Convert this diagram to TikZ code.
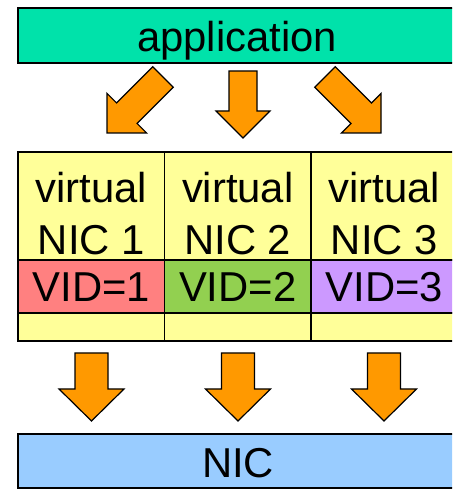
\documentclass[tikz,border=0pt]{standalone}
\usepackage{fontspec}
\setmainfont{Liberation Sans}
\usetikzlibrary{calc}

\definecolor{appgreen}{RGB}{0,226,170}
\definecolor{vnicyellow}{RGB}{255,255,153}
\definecolor{vidred}{RGB}{255,128,128}
\definecolor{vidgreen}{RGB}{146,208,80}
\definecolor{vidpurple}{RGB}{204,153,255}
\definecolor{nicblue}{RGB}{153,204,255}
\definecolor{flow}{RGB}{255,153,0}

% block arrow from #1 (tail) to #2 (tip):
% #3 shaft half width, #4 head half width, #5 head length
\newcommand\blockarrow[5]{%
  \draw[flowarrow] ($(#1)!#3!90:(#2)$)
    -- ($(#2)!#5!(#1)!#3!90:(#2)$)
    -- ($(#2)!#5!(#1)!#4!90:(#2)$)
    -- (#2)
    -- ($(#2)!#5!(#1)!#4!-90:(#2)$)
    -- ($(#2)!#5!(#1)!#3!-90:(#2)$)
    -- ($(#1)!#3!-90:(#2)$) -- cycle;}

\begin{document}
\begin{tikzpicture}[x=1pt,y=1pt,
  box/.style={draw=black, line width=1.6pt, inner sep=0pt, outer sep=0pt, anchor=north west},
  cell/.style={box, minimum width=146.5pt},
  lbl/.style={anchor=base, inner sep=0pt, font=\fontsize{41.8}{52}\selectfont},
  flowarrow/.style={draw=black, fill=flow, line width=1.2pt, line join=miter}]
\useasboundingbox (0,0) rectangle (452,489);
\clip (0,0) rectangle (452,489);

% application layer
\node[box, fill=appgreen, minimum width=442pt, minimum height=55pt] (app) at (18,481) {};
\node[lbl] (applbl) at (237,437) {application};

% virtual NICs
\foreach \i/\x/\c in {1/18/vidred, 2/164.5/vidgreen, 3/311/vidpurple}{
  \node[cell, fill=vnicyellow, minimum height=108pt] (vnic\i) at (\x,337) {};
  \node[cell, fill=\c, minimum height=53pt] (vid\i) at (\x,229) {};
  \node[cell, fill=vnicyellow, minimum height=28pt] (pad\i) at (\x,176) {};
  \node[lbl] (vtop\i) at (\x+73.25,286) {virtual};
  \node[lbl] (vbot\i) at (\x+73.25,234) {NIC \i};
  \node[lbl] (vidl\i) at (\x+73.25,187) {VID=\i};
}

% physical NIC
\node[box, fill=nicblue, minimum width=442pt, minimum height=54pt] (nic) at (18,55) {};
\node[lbl] (niclbl) at (238,11) {NIC};

% arrows from the application to the virtual NICs
\coordinate (t1) at (163,412);  \coordinate (h1) at (107,356);
\coordinate (t2) at (243,418);  \coordinate (h2) at (243,351);
\coordinate (t3) at (325,412);  \coordinate (h3) at (381,356);
\blockarrow{t1}{h1}{14.5pt}{28pt}{28pt}
\blockarrow{t2}{h2}{14pt}{27pt}{27pt}
\blockarrow{t3}{h3}{14.5pt}{28pt}{28pt}

% arrows from the virtual NICs to the NIC
\foreach \i/\x in {1/91.5, 2/238, 3/384}{
  \coordinate (b\i) at (\x,136);
  \coordinate (n\i) at (\x,68);
  \blockarrow{b\i}{n\i}{16.5pt}{32.5pt}{32pt}
}
\end{tikzpicture}
\end{document}
